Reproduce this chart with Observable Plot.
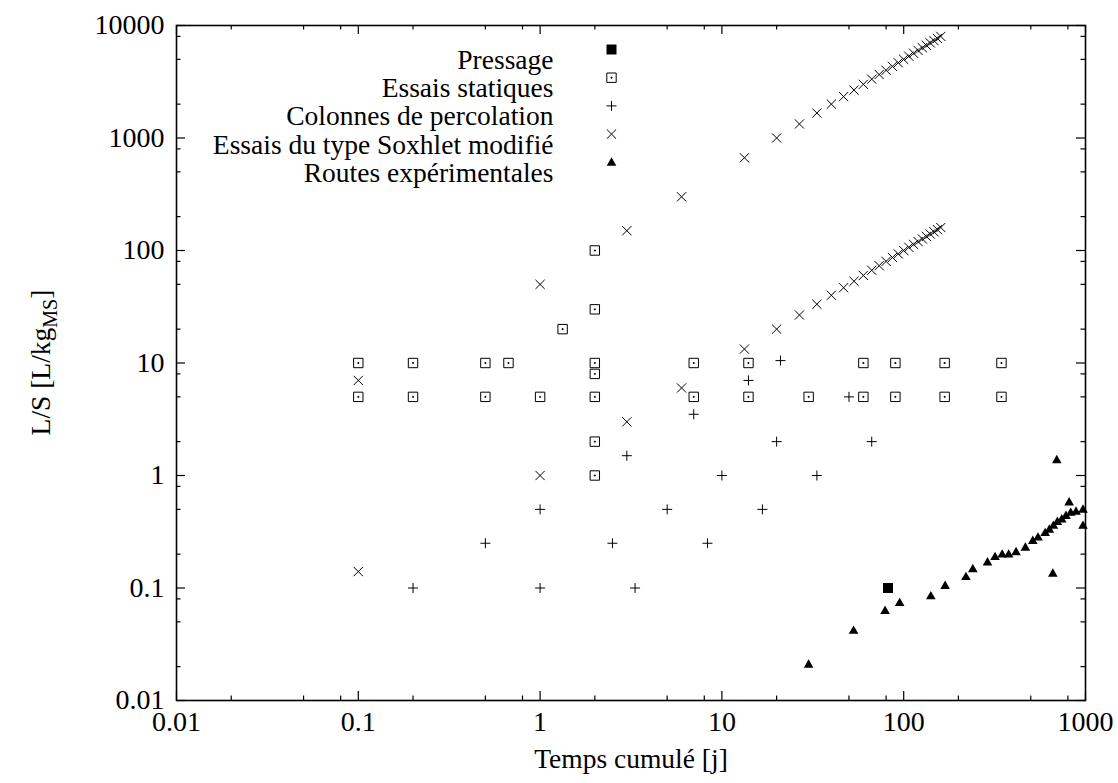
<!DOCTYPE html>
<html><head><meta charset="utf-8">
<script src="https://cdn.jsdelivr.net/npm/d3@7"></script>
<script src="https://cdn.jsdelivr.net/npm/@observablehq/plot@0.6"></script>
<style>body{margin:0;background:#fff} #chart{width:1118px;height:783px}</style>
</head><body><div id="chart"></div>
<script>
// ---------- data ----------
const pressX = [82];
const pressY = [0.1];

const staticX = [0.1, 0.1, 0.2, 0.2, 0.5, 0.5, 0.67, 1, 1.33, 2, 2, 2, 2, 2, 2, 2, 7, 7, 14, 14, 30, 60, 60, 90, 90, 168, 168, 345, 345];
const staticY = [10, 5, 10, 5, 10, 5, 10, 5, 20, 100, 30, 10, 8, 5, 2, 1, 10, 5, 10, 5, 5, 10, 5, 10, 5, 10, 5, 10, 5];

const percX = [0.2, 0.5, 1, 1, 2.5, 3, 3.33, 5, 7, 8.33, 10, 14, 16.7, 20, 21, 33.3, 50, 66.7];
const percY = [0.1, 0.25, 0.1, 0.5, 0.25, 1.5, 0.1, 0.5, 3.5, 0.25, 1, 7, 0.5, 2, 10.5, 1, 5, 2];

const soxLowX = [0.1, 0.1, 1, 3, 6, 13.3, 20, 26.7, 33.3, 40, 46.7, 53.3, 60, 66.7, 73.3, 80, 86.7, 93.3, 100, 106.7, 113.3, 120, 126.7, 133.3, 140, 146.7, 153.3, 160];
const soxLowY = [0.14, 7, 1, 3, 6, 13.3, 20, 26.7, 33.3, 40, 46.7, 53.3, 60, 66.7, 73.3, 80, 86.7, 93.3, 100, 106.7, 113.3, 120, 126.7, 133.3, 140, 146.7, 153.3, 160];
const soxHighX = [1, 3, 6, 13.3, 20, 26.7, 33.3, 40, 46.7, 53.3, 60, 66.7, 73.3, 80, 86.7, 93.3, 100, 106.7, 113.3, 120, 126.7, 133.3, 140, 146.7, 153.3, 160];
const soxHighY = [50, 150, 300, 667, 1000, 1333, 1667, 2000, 2333, 2667, 3000, 3333, 3667, 4000, 4333, 4667, 5000, 5333, 5667, 6000, 6333, 6667, 7000, 7333, 7667, 8000];

const routeX = [30, 53, 79, 95, 141, 169, 220, 240, 289, 318, 348, 378, 415, 467, 513, 548, 600, 633, 666, 700, 740, 781, 829, 887, 969, 969, 661, 813, 695];
const routeY = [0.021, 0.042, 0.063, 0.074, 0.085, 0.105, 0.126, 0.148, 0.17, 0.19, 0.2, 0.2, 0.21, 0.23, 0.264, 0.283, 0.31, 0.333, 0.36, 0.39, 0.41, 0.44, 0.47, 0.48, 0.5, 0.36, 0.135, 0.58, 1.38];

const xMajor = [0.01, 0.1, 1, 10, 100, 1000];
const xLabels = ["0.01", "0.1", "1", "10", "100", "1000"];
const xMinor = [0.02, 0.05, 0.08, 0.2, 0.5, 0.8, 2, 5, 8, 20, 50, 80, 200, 500, 800];
const yMajor = [0.01, 0.1, 1, 10, 100, 1000, 10000];
const yLabels = ["0.01", "0.1", "1", "10", "100", "1000", "10000"];
const yMinor = [0.02, 0.05, 0.08, 0.2, 0.5, 0.8, 2, 5, 8, 20, 50, 80, 200, 500, 800, 2000, 5000, 8000];

const legendLabels = ["Pressage", "Essais statiques", "Colonnes de percolation", "Essais du type Soxhlet modifié", "Routes expérimentales"];
const xTitle = "Temps cumulé [j]";
const yTitle = ["L/S [L/kg", "MS", "]"];

// ---------- build ----------
const zip = (xs, ys) => xs.map((x, i) => ({x, y: ys[i]}));
const press = zip(pressX, pressY);
const statics = zip(staticX, staticY);
const perc = zip(percX, percY);
const sox = zip(soxLowX, soxLowY).concat(zip(soxHighX, soxHighY));
const routes = zip(routeX, routeY);

const symPlus = {draw(c){c.moveTo(-5,0);c.lineTo(5,0);c.moveTo(0,-5);c.lineTo(0,5);}};
const symTimes = {draw(c){c.moveTo(-4.6,-4.6);c.lineTo(4.6,4.6);c.moveTo(-4.6,4.6);c.lineTo(4.6,-4.6);}};
const symBoxDot = {draw(c){c.moveTo(-4.7,-4.7);c.lineTo(4.7,-4.7);c.lineTo(4.7,4.7);c.lineTo(-4.7,4.7);c.closePath();
  c.moveTo(-0.5,-0.5);c.lineTo(0.5,-0.5);c.lineTo(0.5,0.5);c.lineTo(-0.5,0.5);c.closePath();}};
const symSquare = {draw(c){c.moveTo(-5,-5);c.lineTo(5,-5);c.lineTo(5,5);c.lineTo(-5,5);c.closePath();}};
const symTri = {draw(c){c.moveTo(0,-5);c.lineTo(4.8,3.4);c.lineTo(-4.8,3.4);c.closePath();}};

const W = 1118, H = 783;
const M = {top: 25, right: 33, bottom: 83, left: 176};
const plotH = H - M.top - M.bottom;
const plotW = W - M.left - M.right;
const FONT = "'Liberation Serif', 'Times New Roman', serif";

const styles = [
  {symbol: symSquare, fill: "black", stroke: "none"},
  {symbol: symBoxDot, fill: "none", stroke: "black", strokeWidth: 1},
  {symbol: symPlus, fill: "none", stroke: "black", strokeWidth: 1},
  {symbol: symTimes, fill: "none", stroke: "black", strokeWidth: 1},
  {symbol: symTri, fill: "black", stroke: "none"}
];

const legendMarks = [];
legendLabels.forEach((lab, i) => {
  legendMarks.push(Plot.text([lab], {frameAnchor: "top-left", dx: 377, dy: 24 + i * 28.2, text: d => d, textAnchor: "end", fill: "black", fontSize: 27.5}));
  legendMarks.push(Plot.dot([0], {frameAnchor: "top-left", dx: 435, dy: 24 + i * 28.2, r: 5, ...styles[i]}));
});

const chart = Plot.plot({
  width: W, height: H,
  marginTop: M.top, marginRight: M.right, marginBottom: M.bottom, marginLeft: M.left,
  style: {fontFamily: FONT, fontSize: "28px", background: "white", color: "black"},
  x: {type: "log", domain: [0.01, 1000]},
  y: {type: "log", domain: [0.01, 10000]},
  marks: [
    Plot.tickX(xMajor, {x: d => d, insetTop: plotH - 9, stroke: "black", strokeWidth: 1.2}),
    Plot.tickX(xMajor, {x: d => d, insetBottom: plotH - 9, stroke: "black", strokeWidth: 1.2}),
    Plot.tickX(xMinor, {x: d => d, insetTop: plotH - 4.5, stroke: "black", strokeWidth: 1.2}),
    Plot.tickX(xMinor, {x: d => d, insetBottom: plotH - 4.5, stroke: "black", strokeWidth: 1.2}),
    Plot.tickY(yMajor, {y: d => d, insetRight: plotW - 9, stroke: "black", strokeWidth: 1.2}),
    Plot.tickY(yMajor, {y: d => d, insetLeft: plotW - 9, stroke: "black", strokeWidth: 1.2}),
    Plot.tickY(yMinor, {y: d => d, insetRight: plotW - 4.5, stroke: "black", strokeWidth: 1.2}),
    Plot.tickY(yMinor, {y: d => d, insetLeft: plotW - 4.5, stroke: "black", strokeWidth: 1.2}),
    Plot.axisX(xMajor, {anchor: "bottom", tickSize: 0, tickPadding: 11, label: null, tickFormat: d => xLabels[xMajor.indexOf(d)]}),
    Plot.axisY(yMajor, {anchor: "left", tickSize: 0, tickPadding: 12, label: null, tickFormat: d => yLabels[yMajor.indexOf(d)]}),
    Plot.frame({stroke: "black", strokeWidth: 1.6}),
    Plot.dot(statics, {x: "x", y: "y", r: 5, ...styles[1]}),
    Plot.dot(perc, {x: "x", y: "y", r: 5, ...styles[2]}),
    Plot.dot(sox, {x: "x", y: "y", r: 5, ...styles[3]}),
    Plot.dot(routes, {x: "x", y: "y", r: 5, ...styles[4]}),
    Plot.dot(press, {x: "x", y: "y", r: 5, ...styles[0]}),
    Plot.text([xTitle], {frameAnchor: "bottom", dy: 67, text: d => d, fill: "black", fontSize: 27.5}),
    ...legendMarks
  ]
});

const svg = d3.select(chart);
const t = svg.append("text")
  .attr("transform", `translate(50,${M.top + plotH / 2}) rotate(-90)`)
  .attr("text-anchor", "middle")
  .attr("fill", "black")
  .attr("font-size", "27.5px");
t.append("tspan").text(yTitle[0]);
t.append("tspan").attr("font-size", "20px").attr("dy", 7).text(yTitle[1]);
t.append("tspan").attr("dy", -7).text(yTitle[2]);

document.getElementById("chart").appendChild(chart);
</script></body></html>
